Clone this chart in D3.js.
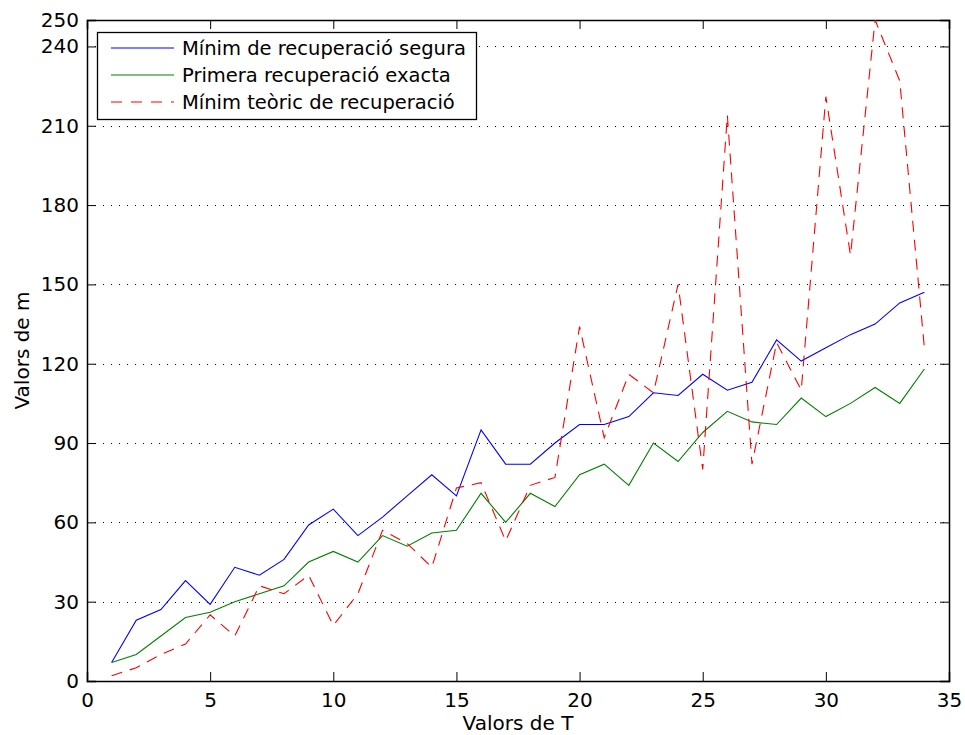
<!DOCTYPE html>
<html>
<head>
<meta charset="utf-8">
<script src="https://cdn.jsdelivr.net/npm/d3@7"></script>
<style>
  body { margin: 0; background: #fff; }
  svg { display: block; }
  text { font-family: "DejaVu Sans", Verdana, sans-serif; fill: #000; }
</style>
</head>
<body>
<script>
const T = d3.range(1, 35);
const minimSegura = [7, 23, 27, 38, 29, 43, 40, 46, 59, 65, 55, 62, 70, 78, 70, 95, 82, 82, 90, 97, 97, 100, 109, 108, 116, 110, 113, 129, 121, 126, 131, 135, 143, 147];
const primeraExacta = [7, 10, 17, 24, 26, 30, 33, 36, 45, 49, 45, 55, 51, 56, 57, 71, 60, 71, 66, 78, 82, 74, 90, 83, 94, 102, 98, 97, 107, 100, 105, 111, 105, 118];
const minimTeoric = [2, 5, 10, 14, 25, 17, 36, 33, 40, 21, 33, 57, 52, 43, 73, 75, 53, 74, 77, 134, 92, 116, 109, 150, 80, 214, 82, 128, 110, 221, 161, 250, 227, 126];
const xTicks = [0, 5, 10, 15, 20, 25, 30, 35];
const yTicks = [0, 30, 60, 90, 120, 150, 180, 210, 240, 250];
const seriesNames = ["Mínim de recuperació segura", "Primera recuperació exacta", "Mínim teòric de recuperació"];
const seriesColors = ["#0000ff", "#008000", "#ff0000"];
const xLabel = "Valors de T";
const yLabel = "Valors de m";

const W = 965, H = 735;
const L = 87, R = 949, TOP = 20, B = 681;

const svg = d3.select("body").append("svg").attr("width", W).attr("height", H);
const x = d3.scaleLinear().domain([0, 35]).range([L, R]);
const y = d3.scaleLinear().domain([0, 250]).range([B, TOP]);

// grid (dotted horizontal)
svg.append("g").selectAll("line").data(yTicks.filter(v => v > 0 && v < 250)).join("line")
  .attr("x1", L).attr("x2", R)
  .attr("y1", d => Math.round(y(d)) + 0.5).attr("y2", d => Math.round(y(d)) + 0.5)
  .attr("stroke", "#000").attr("stroke-width", 1).attr("stroke-dasharray", "1,7");

// axes with inward ticks
const fs = "20px";
const gx = svg.append("g").attr("transform", `translate(0,${B})`)
  .call(d3.axisBottom(x).tickValues(xTicks).tickSize(-9).tickPadding(12).tickFormat(d3.format("d")));
const gxTop = svg.append("g").attr("transform", `translate(0,${TOP})`)
  .call(d3.axisTop(x).tickValues(xTicks).tickSize(-9).tickFormat(""));
const gy = svg.append("g").attr("transform", `translate(${L},0)`)
  .call(d3.axisLeft(y).tickValues(yTicks).tickSize(-9).tickPadding(8).tickFormat(d3.format("d")));
const gyR = svg.append("g").attr("transform", `translate(${R},0)`)
  .call(d3.axisRight(y).tickValues(yTicks).tickSize(-9).tickFormat(""));
[gx, gxTop, gy, gyR].forEach(g => {
  g.selectAll("path.domain").attr("stroke", "#000").attr("stroke-width", 1.5);
  g.selectAll(".tick line").attr("stroke", "#000").attr("stroke-width", 1);
  g.selectAll("text").style("font-size", fs).style("font-family", "DejaVu Sans, Verdana, sans-serif").attr("fill", "#000");
});

// lines
const allSeries = [minimSegura, primeraExacta, minimTeoric];
const line = d3.line().x((d, i) => x(T[i])).y(d => y(d));
const plot = svg.append("g");
plot.append("clipPath").attr("id", "clip").append("rect")
  .attr("x", L).attr("y", TOP).attr("width", R - L).attr("height", B - TOP);
allSeries.forEach((s, k) => {
  plot.append("path").datum(s)
    .attr("clip-path", "url(#clip)")
    .attr("d", line)
    .attr("fill", "none")
    .attr("stroke", seriesColors[k])
    .attr("stroke-width", 1.1)
    .attr("stroke-dasharray", k === 2 ? "11,8" : null);
});

// legend
const lg = svg.append("g");
lg.append("rect").attr("x", 97.5).attr("y", 32.5).attr("width", 379).attr("height", 87)
  .attr("fill", "#fff").attr("stroke", "#000").attr("stroke-width", 1.3);
seriesNames.forEach((n, k) => {
  const yy = 48 + k * 27;
  lg.append("line").attr("x1", 111).attr("x2", 174).attr("y1", yy).attr("y2", yy)
    .attr("stroke", seriesColors[k]).attr("stroke-width", 1.1)
    .attr("stroke-dasharray", k === 2 ? "11,9" : null);
  lg.append("text").attr("x", 182).attr("y", yy).attr("dy", "0.35em")
    .style("font-size", "19.5px").text(n);
});

// axis labels
svg.append("text").attr("x", (L + R) / 2).attr("y", 730).attr("text-anchor", "middle")
  .style("font-size", fs).text(xLabel);
svg.append("text").attr("transform", `translate(29,${(TOP + B) / 2}) rotate(-90)`)
  .attr("text-anchor", "middle").style("font-size", fs).text(yLabel);
</script>
</body>
</html>
